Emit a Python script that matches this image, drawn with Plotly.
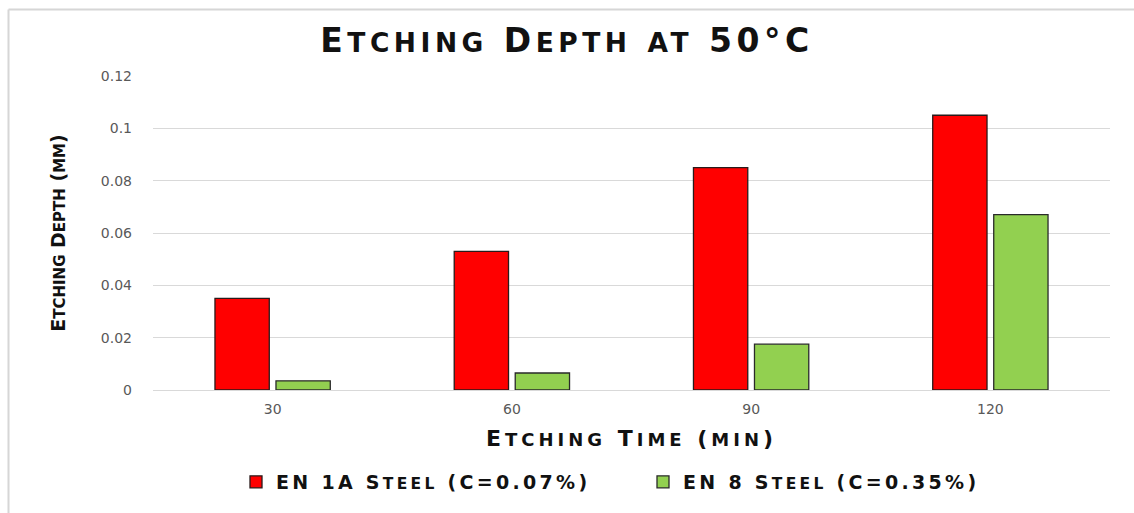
import plotly.graph_objects as go

# Etching depth (mm) versus etching time (min) at 50 °C
etching_time = ["30", "60", "90", "120"]
en1a_depth = [0.035, 0.053, 0.085, 0.105]
en8_depth = [0.0035, 0.0065, 0.0175, 0.067]
series_names = ["EN 1A Steel (C=0.07%)", "EN 8 Steel (C=0.35%)"]
y_ticks = [0, 0.02, 0.04, 0.06, 0.08, 0.1, 0.12]
y_tick_text = ["0", "0.02", "0.04", "0.06", "0.08", "0.1", "0.12"]

W, H = 1134, 513
L, R, T, B = 153, 24, 76, 123
plot_w = W - L - R
plot_h = H - T - B

BOLD = dict(family="DejaVu Sans", color="#111111", weight="bold")


def small_caps(text, big, small, spacing=0):
    """Render text in a wide small-caps style: lowercase letters become
    smaller capitals, everything else stays at full size."""
    runs = []
    for ch in text:
        low = ch.islower()
        if runs and runs[-1][0] == low:
            runs[-1][1] += ch
        else:
            runs.append([low, ch])
    out = []
    for low, chunk in runs:
        size = small if low else big
        out.append(f'<span style="font-size:{size}px;letter-spacing:{spacing}px">'
                   f'{chunk.upper()}</span>')
    return "".join(out)


fig = go.Figure()
fig.add_trace(go.Bar(
    x=etching_time, y=en1a_depth, name=small_caps(series_names[0], 19, 15.5, 3.3),
    marker=dict(color="#FF0000", line=dict(color="#2a1a1a", width=1.3)),
))
fig.add_trace(go.Bar(
    x=etching_time, y=en8_depth, name=small_caps(series_names[1], 19, 15.5, 3.3),
    marker=dict(color="#92D050", line=dict(color="#2a2a2a", width=1.3)),
))


def px_x(px):
    return (px - L) / plot_w


def px_y(py):
    return (H - B - py) / plot_h


# light frame along the top and left edges
frame = dict(type="line", xref="paper", yref="paper", line=dict(color="#D6D6D6", width=2))
fig.add_shape(**frame, x0=px_x(8.5), x1=px_x(W + 5), y0=px_y(9.5), y1=px_y(9.5))
fig.add_shape(**frame, x0=px_x(8.5), x1=px_x(8.5), y0=px_y(9.5), y1=px_y(H + 5))

fig.update_layout(
    width=W, height=H,
    margin=dict(l=L, r=R, t=T, b=B),
    paper_bgcolor="white", plot_bgcolor="white",
    barmode="group", bargap=0.49, bargroupgap=0.11,
    title=dict(text=small_caps("Etching Depth at 50°C", 33, 26.5, 4.5),
               x=0.5, xref="container", xanchor="center",
               y=1 - 40 / H, yanchor="middle",
               font=dict(size=33, **BOLD)),
    xaxis=dict(
        showgrid=False, showline=True, linecolor="#D9D9D9", linewidth=1,
        ticks="", ticklabelstandoff=6,
        tickfont=dict(family="DejaVu Sans", size=14, color="#595959"),
        title=dict(text=small_caps("Etching Time (min)", 22, 18, 4), standoff=14,
                   font=dict(size=22, **BOLD)),
    ),
    yaxis=dict(
        range=[0, 0.12], tickvals=y_ticks, ticktext=y_tick_text,
        showgrid=True, gridcolor="#D9D9D9", gridwidth=1, zeroline=False,
        showline=False, ticks="", ticklabelstandoff=20,
        tickfont=dict(family="DejaVu Sans", size=14, color="#595959"),
        title=dict(text=small_caps("Etching Depth (mm)", 19, 15, 0), standoff=30,
                   font=dict(size=19, **BOLD)),
    ),
    legend=dict(orientation="h", x=px_x(236), xanchor="left", y=px_y(482), yanchor="middle",
                font=dict(size=19, **BOLD), itemwidth=30, traceorder="normal",
                entrywidthmode="pixels", entrywidth=362),
    showlegend=True,
)

fig.write_html("out.html")
